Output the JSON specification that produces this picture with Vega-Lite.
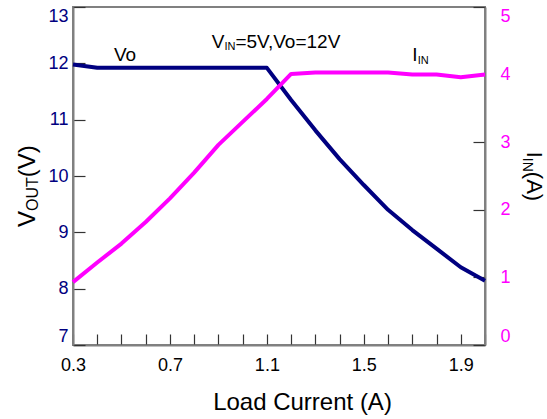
{
  "$schema": "https://vega.github.io/schema/vega-lite/v6.json",
  "width": 412,
  "height": 338,
  "autosize": {"type": "none"},
  "padding": {"left": 73, "top": 7, "right": 62, "bottom": 74},
  "background": "white",
  "config": {
    "font": "Liberation Sans",
    "view": {"stroke": "#808080", "strokeWidth": 2},
    "axis": {
      "grid": false,
      "domainColor": "#808080",
      "domainWidth": 2,
      "tickColor": "#333333",
      "tickWidth": 1.2,
      "labelFont": "Liberation Sans",
      "labelFontSize": 18,
      "titleFont": "Liberation Sans"
    }
  },
  "datasets": {
    "curves": [
      {"x": 0.3, "vo": 11.98, "iin": 0.93},
      {"x": 0.4, "vo": 11.92, "iin": 1.22},
      {"x": 0.5, "vo": 11.92, "iin": 1.50},
      {"x": 0.6, "vo": 11.92, "iin": 1.82},
      {"x": 0.7, "vo": 11.92, "iin": 2.17},
      {"x": 0.8, "vo": 11.92, "iin": 2.55},
      {"x": 0.9, "vo": 11.92, "iin": 2.96},
      {"x": 1.0, "vo": 11.92, "iin": 3.30},
      {"x": 1.1, "vo": 11.92, "iin": 3.64},
      {"x": 1.2, "vo": 11.35, "iin": 4.01},
      {"x": 1.3, "vo": 10.81, "iin": 4.03},
      {"x": 1.4, "vo": 10.30, "iin": 4.03},
      {"x": 1.5, "vo": 9.84, "iin": 4.03},
      {"x": 1.6, "vo": 9.40, "iin": 4.03},
      {"x": 1.7, "vo": 9.04, "iin": 4.00},
      {"x": 1.8, "vo": 8.71, "iin": 4.00},
      {"x": 1.9, "vo": 8.38, "iin": 3.96},
      {"x": 2.0, "vo": 8.14, "iin": 4.00}
    ],
    "inplotBig": [
      {"x": 0.469, "y": 12.047, "t": "Vo"},
      {"x": 0.872, "y": 12.277, "t": "V"},
      {"x": 0.970, "y": 12.277, "t": "=5V,Vo=12V"},
      {"x": 1.700, "y": 12.047, "t": "I"}
    ],
    "inplotSmall": [
      {"x": 0.925, "y": 12.228, "t": "IN"},
      {"x": 1.722, "y": 11.997, "t": "IN"}
    ],
    "leftBig": [
      {"x": 0.1432, "y": 9.094, "t": "V"},
      {"x": 0.1432, "y": 9.978, "t": "(V)"}
    ],
    "leftSmall": [
      {"x": 0.1576, "y": 9.379, "t": "OUT"}
    ],
    "rightBig": [
      {"x": 2.172, "y": 10.431, "t": "I"},
      {"x": 2.172, "y": 10.074, "t": "(A)"}
    ],
    "rightSmall": [
      {"x": 2.157, "y": 10.323, "t": "IN"}
    ]
  },
  "encoding": {
    "x": {
      "field": "x", "type": "quantitative",
      "scale": {"domain": [0.3, 2.0], "nice": false, "zero": false},
      "axis": {
        "values": [0.3, 0.4, 0.5, 0.6, 0.7, 0.8, 0.9, 1.0, 1.1, 1.2, 1.3, 1.4, 1.5, 1.6, 1.7, 1.8, 1.9, 2.0],
        "labelExpr": "abs((datum.value-0.3)/0.4 - round((datum.value-0.3)/0.4)) < 0.01 ? format(datum.value, '.1f') : ''",
        "tickSize": -11,
        "labelPadding": 22,
        "labelFlush": false,
        "labelColor": "#000000",
        "title": "Load Current (A)",
        "titleFontSize": 24,
        "titleFontWeight": "normal",
        "titleColor": "#000000",
        "titleX": 229,
        "titleY": 64,
        "titleAlign": "center",
        "titleBaseline": "alphabetic"
      }
    }
  },
  "layer": [
    {
      "layer": [
        {
          "data": {"name": "curves"},
          "mark": {"type": "line", "color": "#000080", "strokeWidth": 4, "strokeJoin": "round"},
          "encoding": {
            "y": {
              "field": "vo", "type": "quantitative",
              "scale": {"domain": [7, 13], "nice": false, "zero": false},
              "axis": {"orient": "left", "values": [7, 8, 9, 10, 11, 12, 13], "labelColor": "#000080", "tickSize": -12, "labelPadding": 17, "labelFlush": true, "title": null}
            }
          }
        },
        {
          "data": {"name": "inplotBig"},
          "mark": {"type": "text", "font": "Liberation Sans", "fontSize": 19, "align": "left", "baseline": "alphabetic", "color": "#000000"},
          "encoding": {
            "y": {"field": "y", "type": "quantitative", "scale": {"domain": [7, 13], "nice": false, "zero": false},
              "axis": {"orient": "left", "values": [7, 8, 9, 10, 11, 12, 13], "labelColor": "#000080", "tickSize": -12, "labelPadding": 17, "labelFlush": true, "title": null}},
            "text": {"field": "t"}
          }
        },
        {
          "data": {"name": "inplotSmall"},
          "mark": {"type": "text", "font": "Liberation Sans", "fontSize": 11, "align": "left", "baseline": "alphabetic", "color": "#000000"},
          "encoding": {
            "y": {"field": "y", "type": "quantitative", "scale": {"domain": [7, 13], "nice": false, "zero": false},
              "axis": {"orient": "left", "values": [7, 8, 9, 10, 11, 12, 13], "labelColor": "#000080", "tickSize": -12, "labelPadding": 17, "labelFlush": true, "title": null}},
            "text": {"field": "t"}
          }
        },
        {
          "data": {"name": "leftBig"},
          "mark": {"type": "text", "font": "Liberation Sans", "fontSize": 24, "angle": 270, "align": "left", "baseline": "alphabetic", "color": "#000000"},
          "encoding": {
            "y": {"field": "y", "type": "quantitative", "scale": {"domain": [7, 13], "nice": false, "zero": false},
              "axis": {"orient": "left", "values": [7, 8, 9, 10, 11, 12, 13], "labelColor": "#000080", "tickSize": -12, "labelPadding": 17, "labelFlush": true, "title": null}},
            "text": {"field": "t"}
          }
        },
        {
          "data": {"name": "leftSmall"},
          "mark": {"type": "text", "font": "Liberation Sans", "fontSize": 16, "angle": 270, "align": "left", "baseline": "alphabetic", "color": "#000000"},
          "encoding": {
            "y": {"field": "y", "type": "quantitative", "scale": {"domain": [7, 13], "nice": false, "zero": false},
              "axis": {"orient": "left", "values": [7, 8, 9, 10, 11, 12, 13], "labelColor": "#000080", "tickSize": -12, "labelPadding": 17, "labelFlush": true, "title": null}},
            "text": {"field": "t"}
          }
        },
        {
          "data": {"name": "rightBig"},
          "mark": {"type": "text", "font": "Liberation Sans", "fontSize": 22, "angle": 90, "align": "left", "baseline": "alphabetic", "color": "#000000"},
          "encoding": {
            "y": {"field": "y", "type": "quantitative", "scale": {"domain": [7, 13], "nice": false, "zero": false},
              "axis": {"orient": "left", "values": [7, 8, 9, 10, 11, 12, 13], "labelColor": "#000080", "tickSize": -12, "labelPadding": 17, "labelFlush": true, "title": null}},
            "text": {"field": "t"}
          }
        },
        {
          "data": {"name": "rightSmall"},
          "mark": {"type": "text", "font": "Liberation Sans", "fontSize": 14, "angle": 90, "align": "left", "baseline": "alphabetic", "color": "#000000"},
          "encoding": {
            "y": {"field": "y", "type": "quantitative", "scale": {"domain": [7, 13], "nice": false, "zero": false},
              "axis": {"orient": "left", "values": [7, 8, 9, 10, 11, 12, 13], "labelColor": "#000080", "tickSize": -12, "labelPadding": 17, "labelFlush": true, "title": null}},
            "text": {"field": "t"}
          }
        }
      ]
    },
    {
      "data": {"name": "curves"},
      "mark": {"type": "line", "color": "#FF00FF", "strokeWidth": 4, "strokeJoin": "round"},
      "encoding": {
        "y": {
          "field": "iin", "type": "quantitative",
          "scale": {"domain": [0, 5], "nice": false, "zero": false},
          "axis": {"orient": "right", "values": [0, 1, 2, 3, 4, 5], "labelColor": "#FF00FF", "tickSize": -12, "labelPadding": 27, "labelFlush": true, "title": null}
        }
      }
    }
  ],
  "resolve": {"scale": {"y": "independent"}}
}
